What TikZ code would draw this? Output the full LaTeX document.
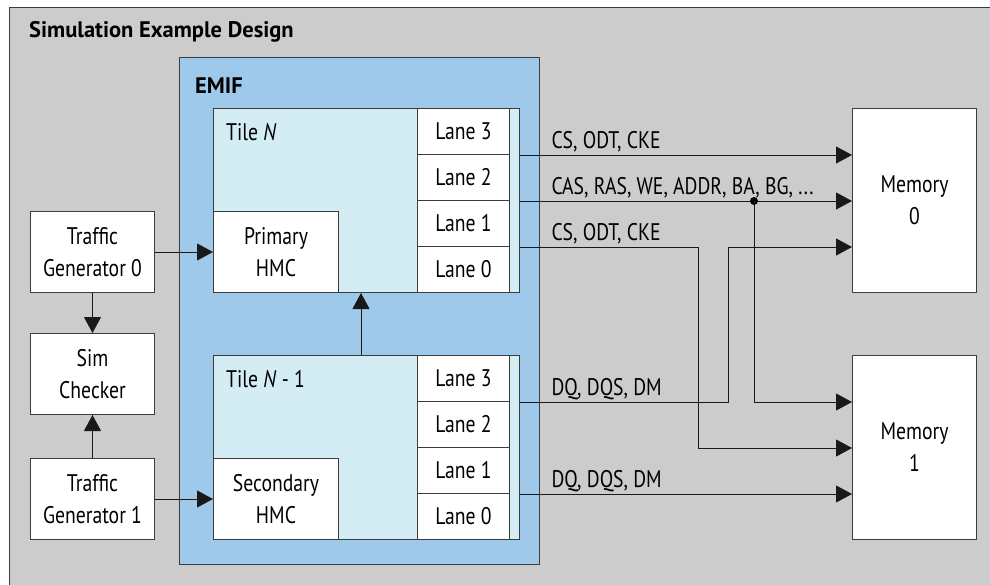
\documentclass[tikz,border=0pt]{standalone}
\usepackage{fontspec}
\setmainfont[FakeStretch=0.82]{PT Sans}
\newfontfamily\headfont{PT Sans}
\usetikzlibrary{arrows.meta}

\definecolor{simgrey}{RGB}{204,204,204}
\definecolor{emifblue}{RGB}{158,201,235}
\definecolor{tileblue}{RGB}{212,236,244}
\definecolor{edge}{RGB}{60,60,60}

\tikzset{
  every node/.style={font=\fontsize{24}{32}\selectfont},
  head/.style={anchor=base west, inner sep=0pt, font=\fontsize{22.5}{25}\headfont\bfseries},
  blk/.style={draw=edge, line width=1pt, fill=white, align=center, inner sep=0pt, anchor=north west},
  lane/.style={blk, minimum width=92pt, minimum height=46pt},
  tile/.style={blk, fill=tileblue, minimum width=306pt, minimum height=184pt},
  hmc/.style={blk, minimum width=125pt, minimum height=81pt},
  side/.style={blk, minimum width=124pt, minimum height=81pt},
  mem/.style={blk, minimum width=124pt, minimum height=184pt},
  sig/.style={draw=black!90, line width=1pt, -{Triangle[length=16pt,width=17pt]}},
  lbl/.style={anchor=base west, inner sep=0pt, xshift=31pt, yshift=7pt},
}

\begin{document}
\begin{tikzpicture}[x=1pt, y=-1pt]
\useasboundingbox (0,0) rectangle (990,584);
\clip (0,0) rectangle (990,584);

% outer frame
\draw[draw=edge, line width=1pt, fill=simgrey] (9,7) rectangle (1000,600);
\node[head] (title) at (29,37) {Simulation Example Design};

% EMIF
\node[blk, fill=emifblue, minimum width=360pt, minimum height=507pt] (emif) at (179,57) {};
\node[head] (emiftxt) at (195,93) {EMIF};

% tiles
\node[tile] (tileN) at (213,108) {};
\node[tile] (tileM) at (213,355) {};
\node[anchor=base west, inner sep=0pt] (tnN) at (226,140) {Tile \textit{N}};
\node[anchor=base west, inner sep=0pt] (tnM) at (226,387) {Tile \textit{N} - 1};
\foreach \i in {0,...,3} {
  \node[lane] (n\i) at (417,{108+(3-\i)*46}) {Lane \i};
  \node[lane] (m\i) at (417,{355+(3-\i)*46}) {Lane \i};
}
\node[hmc] (pri) at (213,211) {Primary\\HMC};
\node[hmc] (sec) at (213,458) {Secondary\\HMC};

% traffic side
\node[side] (tg0) at (30,211) {Traffic\\Generator 0};
\node[side] (chk) at (30,333) {Sim\\Checker};
\node[side] (tg1) at (30,458) {Traffic\\Generator 1};

% memories
\node[mem] (mem0) at (852,108) {Memory\\0};
\node[mem] (mem1) at (852,355) {Memory\\1};

\coordinate (up) at (361,0);
\coordinate (j1) at (698,0);
\coordinate (j2) at (728,0);
\coordinate (tap) at (754,0);

\draw[sig] (tg0.east) -- (pri.west);
\draw[sig] (tg1.east) -- (sec.west);
\draw[sig] (tg0.south) -- (chk.north);
\draw[sig] (tg1.north) -- (chk.south);
\draw[sig] (tileM.north -| up) -- (tileN.south -| up);

% signals to memory
\draw[sig] (n3.south -| tileN.east) node[lbl] (s1) {CS, ODT, CKE} -- (mem0.west |- n3.south);
\draw[sig] (n2.south -| tileN.east) node[lbl] (s2) {CAS, RAS, WE, ADDR, BA, BG, ...} -- (mem0.west |- n2.south);
\fill (tap |- n2.south) circle (4pt);
\draw[sig] (tap |- n2.south) -- (tap |- m3.south) -- (mem1.west |- m3.south);
\draw[sig] (n1.south -| tileN.east) node[lbl] (s3) {CS, ODT, CKE} -- (j1 |- n1.south) -- (j1 |- m2.south) -- (mem1.west |- m2.south);
\draw[sig] (m3.south -| tileM.east) node[lbl] (s4) {DQ, DQS, DM} -- (j2 |- m3.south) -- (j2 |- n1.south) -- (mem0.west |- n1.south);
\draw[sig] (m1.south -| tileM.east) node[lbl] (s5) {DQ, DQS, DM} -- (mem1.west |- m1.south);
\end{tikzpicture}
\end{document}
